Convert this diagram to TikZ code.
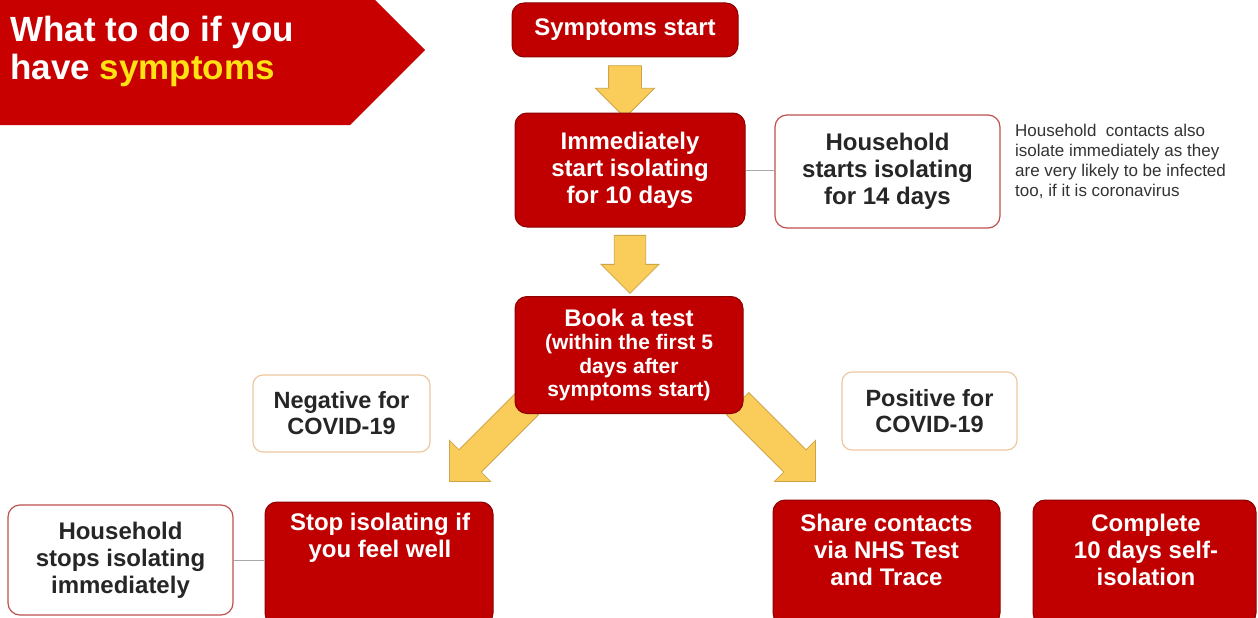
\documentclass[tikz,border=0pt]{standalone}
\usepackage{fontspec}
\setmainfont{Liberation Sans}
\usetikzlibrary{shapes.arrows,backgrounds,calc}
\definecolor{boxred}{RGB}{192,0,0}
\definecolor{boxedge}{RGB}{140,0,0}
\definecolor{bannerred}{RGB}{200,0,0}
\definecolor{titleyellow}{RGB}{255,225,20}
\definecolor{arrowfill}{RGB}{250,205,90}
\definecolor{arrowedge}{RGB}{205,165,70}
\definecolor{pinkedge}{RGB}{192,80,77}
\definecolor{peachedge}{RGB}{238,200,160}
\definecolor{linegray}{RGB}{170,170,170}
\begin{document}
\begin{tikzpicture}[x=1pt,y=-1pt,
  redbox/.style={rounded corners=12pt, fill=boxred, draw=boxedge, line width=1pt,
    inner sep=0pt, text=white, font=\bfseries\fontsize{24}{27}\selectfont, align=center},
  boxtext/.style={inner sep=0pt, text=white, font=\bfseries\fontsize{24}{27}\selectfont, align=center},
  whitebox/.style={rounded corners=12pt, fill=white, draw=pinkedge, line width=1.2pt,
    inner sep=0pt, text=black!85, font=\bfseries\fontsize{24}{27}\selectfont, align=center},
  resultbox/.style={rounded corners=10pt, fill=white, draw=peachedge, line width=1.2pt,
    inner sep=0pt, text=black!85, font=\bfseries\fontsize{23.5}{26}\selectfont, align=center},
  notetext/.style={inner sep=0pt, text=black!80, font=\fontsize{17}{20}\selectfont, align=left},
  titletext/.style={inner sep=0pt, text=white, font=\bfseries\fontsize{35}{38}\selectfont},
  blockarrow/.style={single arrow, single arrow head extend=13pt, fill=arrowfill,
    draw=arrowedge, line width=0.8pt, inner xsep=0pt, inner ysep=15pt},
  connector/.style={draw=linegray, line width=1pt}
]
\useasboundingbox (0,0) rectangle (1258,618);
\clip (0,0) rectangle (1258,618);

% banner
\fill[bannerred] (0,-25) -- (350,-25) -- (425,50) -- (350,125) -- (0,125) -- cycle;
\node[titletext, anchor=base west] (title1) at (10,42) {What to do if you};
\node[titletext, anchor=base west] (title2) at (10,80) {have \textcolor{titleyellow}{symptoms}};

% boxes
\node[redbox, minimum width=226, minimum height=54] (start) at (625,30) {Symptoms start};
\node[redbox, minimum width=230, minimum height=114] (isolate) at (630,170) {Immediately\\start isolating\\for 10 days};
\node[whitebox, minimum width=225, minimum height=113] (hhstart) at (887.5,171.5) {Household\\starts isolating\\for 14 days};
\node[notetext, anchor=north west] (note) at (1015,124) {Household\ \ contacts also\\isolate immediately as they\\are very likely to be infected\\too, if it is coronavirus};
\node[redbox, minimum width=228, minimum height=117, font=\bfseries\fontsize{21}{23.5}\selectfont] (test) at (629,355)
  {{\fontsize{24}{25}\selectfont Book a test}\\(within the first 5\\days after\\symptoms start)};
\node[resultbox, minimum width=177, minimum height=77] (neg) at (341.5,413.5) {Negative for\\COVID-19};
\node[resultbox, minimum width=175, minimum height=78] (pos) at (929.5,411) {Positive for\\COVID-19};
\node[whitebox, minimum width=225, minimum height=110] (hhstop) at (120.5,560) {Household\\stops isolating\\immediately};
\node[redbox, minimum width=228, minimum height=123] (stop) at (379,563.5) {};
\node[boxtext] (stoptext) at (380,538) {Stop isolating if\\you feel well};
\node[redbox, minimum width=227, minimum height=125] (share) at (886.5,562.5) {};
\node[boxtext] (sharetext) at (886.5,550) {Share contacts\\via NHS Test\\and Trace};
\node[redbox, minimum width=223, minimum height=125] (complete) at (1144.5,562.5) {};
\node[boxtext] (completetext) at (1146,549.5) {Complete\\10 days self-\\isolation};

% connectors
\draw[connector] (isolate.east) -- (isolate.east -| hhstart.west);
\draw[connector] (hhstop.east) -- (hhstop.east -| stop.west);

% block arrows behind the boxes
\begin{scope}[on background layer]
  \fill[white] (0,0) rectangle (1258,618);
  \node[blockarrow, rotate=-90, minimum height=52, minimum width=57, inner ysep=16pt] (a1)
    at ($(start.south)+(0,26)$) {};
  \node[blockarrow, rotate=-90, minimum height=58, minimum width=58] (a2)
    at ($(isolate.south)+(0,29)$) {};
  \node[blockarrow, rotate=225, minimum height=110, minimum width=58] (a3)
    at (494,437) {};
  \node[blockarrow, rotate=315, minimum height=110, minimum width=58] (a4)
    at (771,437) {};
\end{scope}
\end{tikzpicture}
\end{document}
